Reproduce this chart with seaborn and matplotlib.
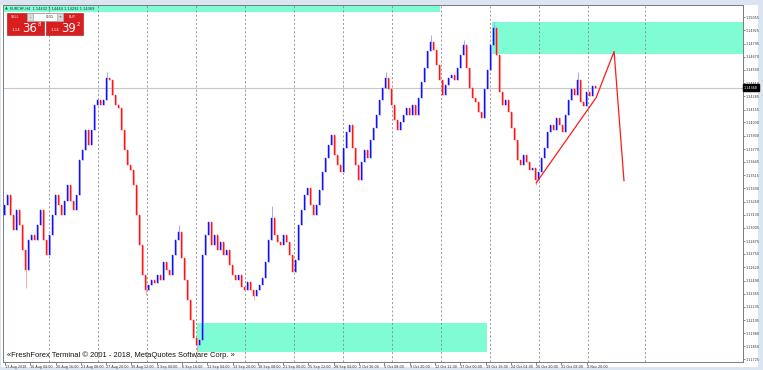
import numpy as np
import pandas as pd
import matplotlib.pyplot as plt
from matplotlib.patches import Rectangle
import matplotlib.transforms as mtransforms
import seaborn as sns

# ---- data (EURCHF H4) ----
first_open = 1.1313
closes = [1.1323, 1.1332, 1.1313, 1.1298, 1.1318, 1.1303, 1.1279, 1.1259, 1.1289, 1.1293,
          1.1289, 1.1303, 1.1318, 1.1289, 1.1274, 1.1293, 1.1313, 1.1332, 1.1323, 1.1313,
          1.1327, 1.1342, 1.1327, 1.1318, 1.1332, 1.1366, 1.1376, 1.1396, 1.1381, 1.1396,
          1.1420, 1.1425, 1.1420, 1.1425, 1.1446, 1.1444, 1.1430, 1.1420, 1.1417, 1.1396,
          1.1376, 1.1362, 1.1357, 1.1342, 1.1313, 1.1284, 1.1255, 1.1240, 1.1245, 1.1250,
          1.1247, 1.1255, 1.1250, 1.1267, 1.1259, 1.1255, 1.1274, 1.1289, 1.1296, 1.1271,
          1.1250, 1.1230, 1.1211, 1.1193, 1.1186, 1.1191, 1.1274, 1.1293, 1.1306, 1.1284,
          1.1293, 1.1279, 1.1287, 1.1274, 1.1279, 1.1264, 1.1255, 1.1250, 1.1255, 1.1243,
          1.1240, 1.1248, 1.1240, 1.1234, 1.1240, 1.1245, 1.1252, 1.1267, 1.1289, 1.1310,
          1.1293, 1.1287, 1.1284, 1.1293, 1.1287, 1.1274, 1.1257, 1.1269, 1.1303, 1.1318,
          1.1332, 1.1339, 1.1323, 1.1313, 1.1323, 1.1337, 1.1355, 1.1368, 1.1381, 1.1391,
          1.1371, 1.1362, 1.1355, 1.1378, 1.1394, 1.1400, 1.1378, 1.1362, 1.1347, 1.1364,
          1.1376, 1.1368, 1.1386, 1.1398, 1.1410, 1.1425, 1.1436, 1.1446, 1.1435, 1.1420,
          1.1405, 1.1396, 1.1403, 1.1410, 1.1417, 1.1410, 1.1420, 1.1410, 1.1427, 1.1442,
          1.1456, 1.1472, 1.1481, 1.1473, 1.1459, 1.1444, 1.1430, 1.1439, 1.1446, 1.1449,
          1.1444, 1.1456, 1.1469, 1.1478, 1.1456, 1.1436, 1.1427, 1.1423, 1.1413, 1.1407,
          1.1435, 1.1454, 1.1478, 1.1495, 1.1469, 1.1433, 1.1420, 1.1425, 1.1413, 1.1398,
          1.1386, 1.1366, 1.1362, 1.1371, 1.1364, 1.1357, 1.1359, 1.1347, 1.1355, 1.1368,
          1.1378, 1.1394, 1.1400, 1.1396, 1.1407, 1.1400, 1.1394, 1.1410, 1.1425, 1.1435,
          1.1430, 1.1444, 1.1423, 1.1419, 1.1433, 1.1429, 1.1438, 1.1436]

spike_high = {34: 1.1452, 58: 1.1303, 89: 1.1322, 127: 1.1452, 142: 1.1488,
              153: 1.1483, 163: 1.1501, 191: 1.1452}
spike_low = {7: 1.1242, 47: 1.1235, 64: 1.1180, 83: 1.1230, 177: 1.1342}

current_price = 1.14368

# supply / demand rectangles: (bar from, bar to, price low, price high)
zone_top = (-0.5, 145.2, 1.1510, 1.1530)
zone_right = (162.5, 260.0, 1.1470, 1.1501)
zone_bottom = (64.2, 160.8, 1.1180, 1.1208)

# red drawing (bar, price)
path_bar = [177.2, 197.2, 203.2, 206.5]
path_price = [1.1344, 1.1427, 1.1472, 1.1346]

price_ticks = [1.15055, 1.14925, 1.14795, 1.14670, 1.14540, 1.14410, 1.14285, 1.14155,
               1.14030, 1.13900, 1.13770, 1.13645, 1.13515, 1.13390, 1.13260, 1.13130,
               1.13005, 1.12875, 1.12750, 1.12620, 1.12490, 1.12365, 1.12235, 1.12105,
               1.11980, 1.11850, 1.11725]

time_labels = ["13 Aug 2018", "16 Aug 04:00", "20 Aug 16:00", "23 Aug 08:00", "27 Aug 20:00",
               "30 Aug 12:00", "4 Sep 00:00", "6 Sep 16:00", "11 Sep 04:00", "13 Sep 20:00",
               "18 Sep 08:00", "21 Sep 00:00", "25 Sep 12:00", "28 Sep 04:00", "2 Oct 16:00",
               "5 Oct 08:00", "9 Oct 20:00", "12 Oct 12:00", "17 Oct 00:00", "19 Oct 16:00",
               "24 Oct 04:00", "26 Oct 20:00", "31 Oct 08:00", "4 Nov 20:00"]

# ---- build OHLC ----
df = pd.DataFrame({"close": closes})
df["open"] = [first_open] + closes[:-1]
df["high"] = df[["open", "close"]].max(axis=1)
df["low"] = df[["open", "close"]].min(axis=1)
for k, v in spike_high.items():
    df.loc[k, "high"] = max(df.loc[k, "high"], v)
for k, v in spike_low.items():
    df.loc[k, "low"] = min(df.loc[k, "low"], v)
df["bar"] = np.arange(len(df))
df["bull"] = df["close"] >= df["open"]

sns.set_theme(style="white")
plt.rcParams["font.family"] = ["DejaVu Sans"]

W, H = 763, 370
fig = plt.figure(figsize=(W / 100, H / 100), dpi=100)
fig.patch.set_facecolor("#dbe5f1")


def fx(x):
    return x / W


def fy(y):
    return 1 - y / H


# white chart window
fig.add_artist(Rectangle((fx(1), fy(367)), fx(757), 362 / H, transform=fig.transFigure,
                         facecolor="white", edgecolor="none", zorder=0))

ax = fig.add_axes([fx(3), fy(361.5), fx(739.5), 356.5 / H])
ax.set_facecolor("white")
ax.set_xlim(-0.5, 246.0)
ax.set_ylim(1.11704, 1.15172)

# zones
for x0, x1, p0, p1 in [zone_top, zone_right, zone_bottom]:
    ax.add_patch(Rectangle((x0, p0), x1 - x0, p1 - p0, facecolor="#7ffcd4",
                           edgecolor="none", zorder=0.5))

# vertical grid
grid_bars = list(np.arange(12) * 16.33 + 14.8) + [213.5]
for g in grid_bars:
    ax.axvline(g, color="#8a8a8a", lw=0.6, ls=(0, (2.5, 2.5)), zorder=1)

ax.axhline(current_price, color="#c8c8c8", lw=0.8, zorder=1)

# candles
up = df[df["bull"]]
dn = df[~df["bull"]]
ax.vlines(up["bar"], up["low"], up["high"], color="#9a9aff", lw=0.6, zorder=2)
ax.vlines(dn["bar"], dn["low"], dn["high"], color="#ff9a9a", lw=0.6, zorder=2)
ax.bar(up["bar"], up["close"] - up["open"], bottom=up["open"], width=0.55,
       color="#1010ff", edgecolor="#1010ff", linewidth=0.3, zorder=3)
ax.bar(dn["bar"], dn["close"] - dn["open"], bottom=dn["open"], width=0.55,
       color="#ff1515", edgecolor="#ff1515", linewidth=0.3, zorder=3)

# red drawing
sns.lineplot(x=path_bar, y=path_price, sort=False, color="#ff1a1a", lw=0.9, ax=ax,
             zorder=4, legend=False)

# axes / ticks
for s in ax.spines.values():
    s.set_color("#7a7a7a")
    s.set_linewidth(0.7)
ax.yaxis.tick_right()
ax.set_yticks(price_ticks)
ax.set_yticklabels([f"{p:.5f}" for p in price_ticks], fontsize=2.4, color="#333333")
ax.tick_params(axis="y", length=1.5, width=0.4, pad=1, right=True, left=False,
               colors="#333333")
time_pos = np.arange(len(time_labels)) * 8.43 + 0.17
ax.set_xticks(time_pos)
ax.set_xticklabels(time_labels, fontsize=2.4, ha="left", color="#333333")
ax.tick_params(axis="x", length=2, width=0.4, pad=0.8, bottom=True, colors="#333333")
ax.set_xlabel("")
ax.set_ylabel("")

trans = mtransforms.blended_transform_factory(ax.transAxes, ax.transData)
ax.text(1.002, current_price, "1.14368", transform=trans, fontsize=2.4, color="white",
        va="center", ha="left",
        bbox=dict(boxstyle="square,pad=0.35", fc="black", ec="black"), zorder=6)

# header text
fig.text(fx(5), fy(8.5), "\u25b2", fontsize=2.6, color="#1c5a2a", va="center")
fig.text(fx(10), fy(8.5), "EURCHF,H4  1.14432 1.14444 1.14292 1.14369", fontsize=2.5,
         color="#222222", va="center")

# one click trading panel
for x0 in (7, 46):
    fig.add_artist(Rectangle((fx(x0), fy(35)), fx(37), 22 / H, transform=fig.transFigure,
                             facecolor="#d81e1e", edgecolor="#a01010", lw=0.4, zorder=5))
fig.add_artist(Rectangle((fx(27), fy(21)), fx(36), 8 / H, transform=fig.transFigure,
                         facecolor="white", edgecolor="#9a9a9a", lw=0.4, zorder=6))
for x0 in (27, 57):
    fig.add_artist(Rectangle((fx(x0), fy(21)), fx(6), 8 / H, transform=fig.transFigure,
                             facecolor="#d8d8d8", edgecolor="#9a9a9a", lw=0.4, zorder=6))
fig.text(fx(30), fy(17), "-", fontsize=2.6, ha="center", va="center", zorder=7)
fig.text(fx(60), fy(17), "+", fontsize=2.6, ha="center", va="center", zorder=7)
fig.text(fx(50), fy(17), "0.01", fontsize=2.6, ha="center", va="center", zorder=7)
fig.text(fx(11), fy(17), "SELL", fontsize=2.5, color="white", va="center", zorder=7)
fig.text(fx(69), fy(17), "BUY", fontsize=2.5, color="white", va="center", zorder=7)
for x0, big, sup in ((12, "36", "8"), (51, "39", "2")):
    fig.text(fx(x0), fy(30), "1.14", fontsize=2.8, color="white", va="center", zorder=7)
    fig.text(fx(x0 + 10), fy(28.5), big, fontsize=8.5, color="white", va="center", zorder=7)
    fig.text(fx(x0 + 25.5), fy(24), sup, fontsize=3.8, color="white", va="center", zorder=7)

fig.text(fx(7), fy(355.5), "\u00abFreshForex Terminal \u00a9 2001 - 2018, MetaQuotes Software Corp. \u00bb",
         fontsize=5.4, family=["Liberation Sans", "DejaVu Sans"], color="#111111",
         va="center", zorder=7)

fig.savefig("out.png", dpi=100, facecolor=fig.get_facecolor())
